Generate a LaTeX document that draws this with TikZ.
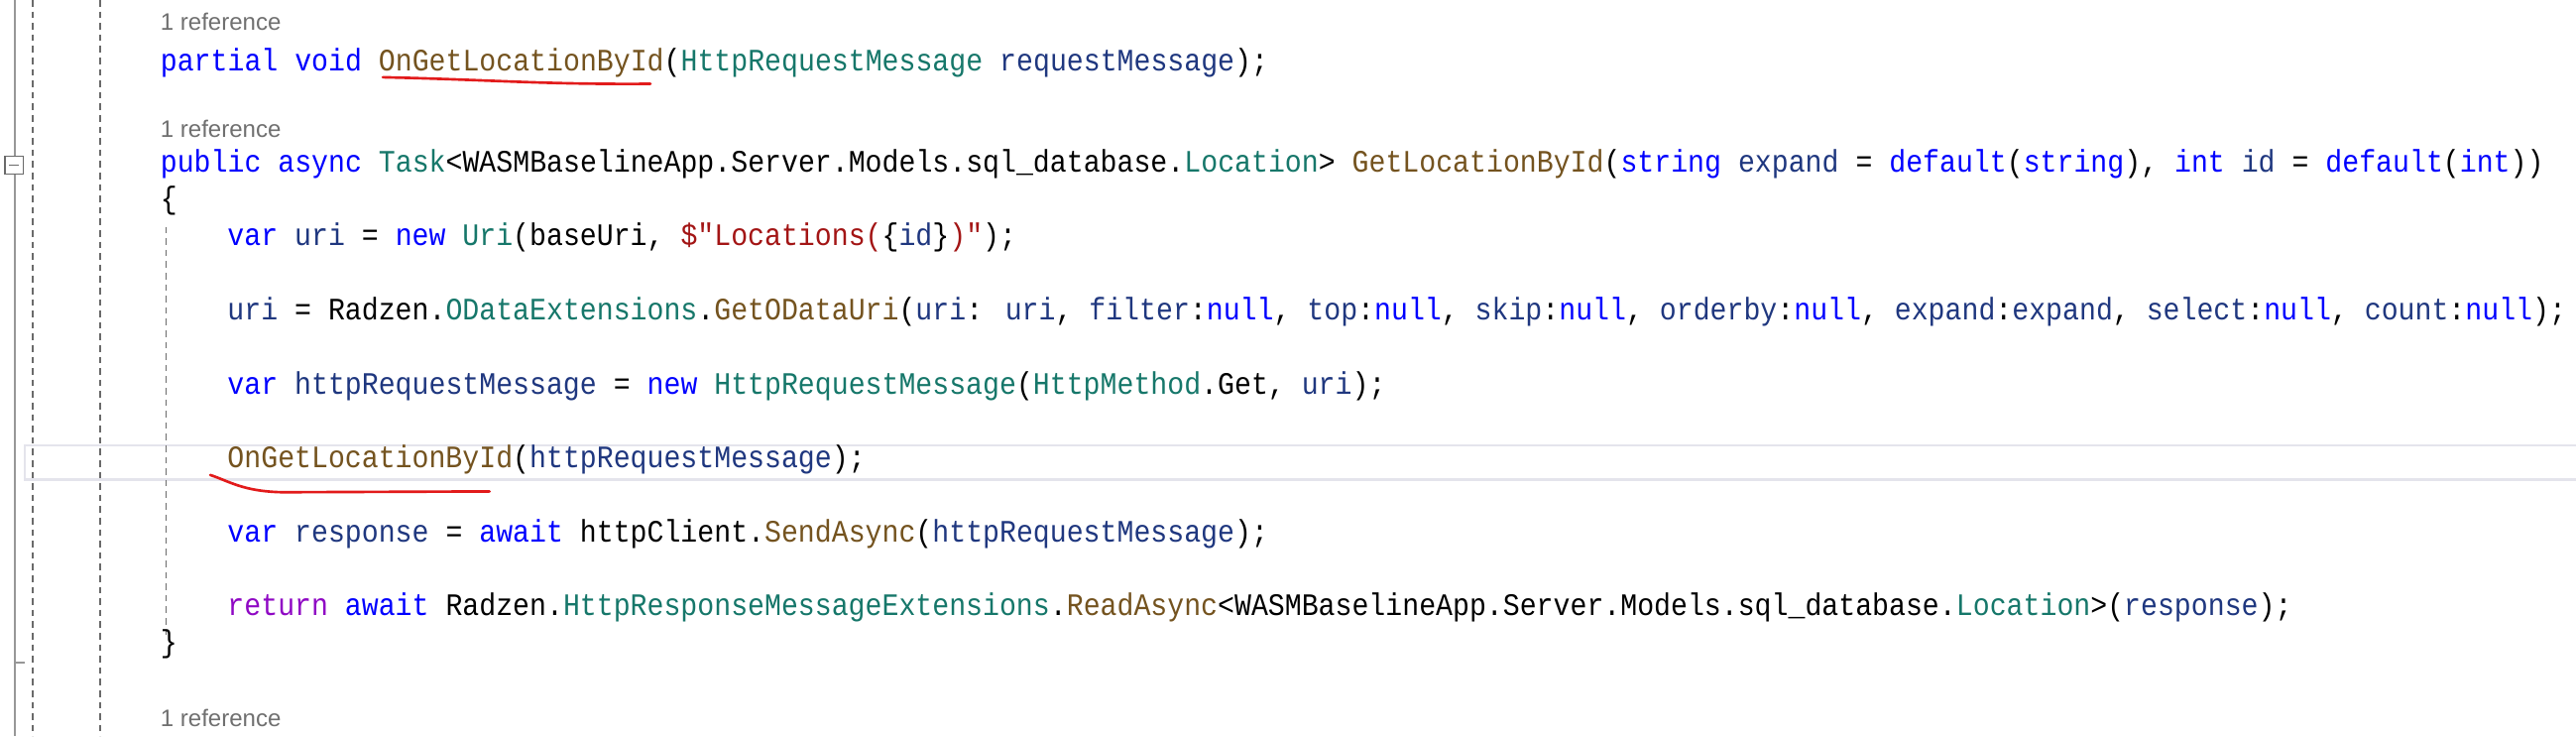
\documentclass[tikz,border=0pt]{standalone}
\usepackage{fontspec}
\newfontfamily\codefont[FakeStretch=0.896]{Liberation Mono}
\newfontfamily\reffont{Liberation Sans}
\definecolor{kw}{HTML}{0000FF}
\definecolor{ty}{HTML}{16776A}
\definecolor{me}{HTML}{74531F}
\definecolor{id}{HTML}{1F377F}
\definecolor{st}{HTML}{A31515}
\definecolor{ct}{HTML}{8F08C4}
\definecolor{refgray}{HTML}{707070}
\definecolor{guide}{HTML}{6A6A6A}
\definecolor{pen}{HTML}{E21B1B}
\newcommand\Kw[1]{\textcolor{kw}{#1}}
\newcommand\Ty[1]{\textcolor{ty}{#1}}
\newcommand\Me[1]{\textcolor{me}{#1}}
\newcommand\Id[1]{\textcolor{id}{#1}}
\newcommand\St[1]{\textcolor{st}{#1}}
\newcommand\Ct[1]{\textcolor{ct}{#1}}
\begin{document}
\begin{tikzpicture}[x=1pt,y=-1pt,
  code/.style={anchor=base west,inner sep=0pt,font=\codefont\fontsize{19}{22}\selectfont},
  refl/.style={anchor=base west,inner sep=0pt,text=refgray,font=\reffont\fontsize{14.5}{16}\selectfont},
  guidedash/.style={guide,line width=0.9pt,dash pattern=on 4pt off 3pt},
  redline/.style={pen,line width=1.6pt,line cap=round}]
\useasboundingbox[fill=white] (0,0) rectangle (1568,448);
% current line highlight
\draw[draw={rgb,255:red,228;green,228;blue,236},line width=1.6pt] (15,271) rectangle (1575,292);
% guides
\draw[guide!70,line width=1pt] (9,0) -- (9,95) (9,106) -- (9,448) (9,403) -- (15,403);
\draw[guide,line width=0.7pt,fill=white] (3,95) rectangle (14,106);
\draw[guide,line width=0.9pt] (5.5,100.5) -- (11.5,100.5);
\draw[guidedash] (20,0) -- (20,448);
\draw[guidedash] (61,0) -- (61,448);
\draw[guidedash] (101,138) -- (101,386);
% text
\node[refl] (r1) at (97.5,18.6) {1 reference};
\node[code] (l1) at (97.5,43) {\Kw{partial} \Kw{void} \Me{OnGetLocationById}(\Ty{HttpRequestMessage} \Id{requestMessage});};
\node[refl] (r2) at (97.5,83.5) {1 reference};
\node[code] (l2) at (97.5,104.6) {\Kw{public} \Kw{async} \Ty{Task}<WASMBaselineApp.Server.Models.sql\_database.\Ty{Location}> \Me{GetLocationById}(\Kw{string} \Id{expand} = \Kw{default}(\Kw{string}), \Kw{int} \Id{id} = \Kw{default}(\Kw{int}))};
\node[code] (l3) at (97.5,127) {\{};
\node[code] (l4) at (138.3,149.6) {\Kw{var} \Id{uri} = \Kw{new} \Ty{Uri}(baseUri, \St{\$"Locations(}\{\Id{id}\}\St{)"});};
\node[code] (l5) at (138.3,194.6) {\Id{uri} = Radzen.\Ty{ODataExtensions}.\Me{GetODataUri}(\Id{uri}: \Id{uri}, \Id{filter}:\Kw{null}, \Id{top}:\Kw{null}, \Id{skip}:\Kw{null}, \Id{orderby}:\Kw{null}, \Id{expand}:\Id{expand}, \Id{select}:\Kw{null}, \Id{count}:\Kw{null});};
\node[code] (l6) at (138.3,239.6) {\Kw{var} \Id{httpRequestMessage} = \Kw{new} \Ty{HttpRequestMessage}(\Ty{HttpMethod}.Get, \Id{uri});};
\node[code] (l7) at (138.3,284.6) {\Me{OnGetLocationById}(\Id{httpRequestMessage});};
\node[code] (l8) at (138.3,329.6) {\Kw{var} \Id{response} = \Kw{await} httpClient.\Me{SendAsync}(\Id{httpRequestMessage});};
\node[code] (l9) at (138.3,374.6) {\Ct{return} \Kw{await} Radzen.\Ty{HttpResponseMessageExtensions}.\Me{ReadAsync}<WASMBaselineApp.Server.Models.sql\_database.\Ty{Location}>(\Id{response});};
\node[code] (l10) at (97.5,397) {\}};
\node[refl] (r3) at (97.5,442) {1 reference};
% red underlines
\draw[redline] (233,47) .. controls (300,48.5) and (330,51.5) .. (396,51);
\draw[redline] (128,289) .. controls (140,293) and (148,299) .. (172,299.5) -- (298,299);
\end{tikzpicture}
\end{document}
